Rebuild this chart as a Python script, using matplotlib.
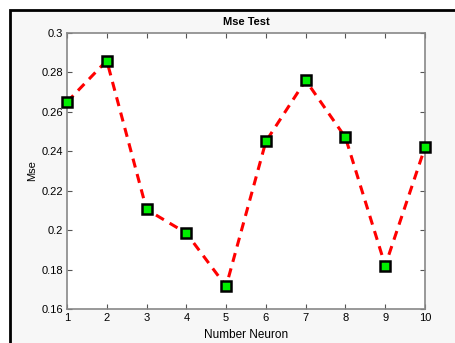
import matplotlib as mpl
mpl.use('Agg')
import matplotlib.pyplot as plt
from matplotlib.patches import Rectangle

neurons = [1, 2, 3, 4, 5, 6, 7, 8, 9, 10]
mse = [0.265, 0.286, 0.2105, 0.1985, 0.1715, 0.245, 0.276, 0.247, 0.182, 0.242]
yticks = [0.16, 0.18, 0.2, 0.22, 0.24, 0.26, 0.28, 0.3]
ylabels = ['0.16', '0.18', '0.2', '0.22', '0.24', '0.26', '0.28', '0.3']

plt.rcParams['font.family'] = ['Liberation Sans', 'DejaVu Sans']

fig = plt.figure(figsize=(4.55, 3.43), dpi=100)
fig.patch.set_facecolor('white')
# grey panel with black frame, like the matlab window
fig.patches.append(Rectangle((10 / 455, -0.1), 1.2, 1 - 9.5 / 343 + 0.1,
                             transform=fig.transFigure, facecolor='#f7f7f7',
                             edgecolor='black', linewidth=2, zorder=-10))

ax = fig.add_axes([67 / 455, 34 / 343, 358 / 455, 276 / 343])
ax.plot(neurons, mse, 'r--', linewidth=2.2, dashes=(3, 2.2),
        marker='s', markersize=7, markerfacecolor='#00ee00',
        markeredgecolor='black', markeredgewidth=1.8, clip_on=False, zorder=5)
ax.set_xlim(1, 10)
ax.set_ylim(0.16, 0.3)
ax.set_xticks(neurons)
ax.set_yticks(yticks)
ax.set_yticklabels(ylabels)
ax.tick_params(direction='in', top=True, right=True, length=3.5, width=0.8,
               color='#555555', labelsize=8, pad=3)
for s in ax.spines.values():
    s.set_color('#888888')
    s.set_linewidth(1.2)
ax.set_title('Mse Test', fontsize=8, fontweight='bold', pad=6)
ax.set_xlabel('Number Neuron', fontsize=8.5, labelpad=4)
ax.set_ylabel('Mse', fontsize=8, labelpad=3)

plt.savefig('out.png', dpi=100)
